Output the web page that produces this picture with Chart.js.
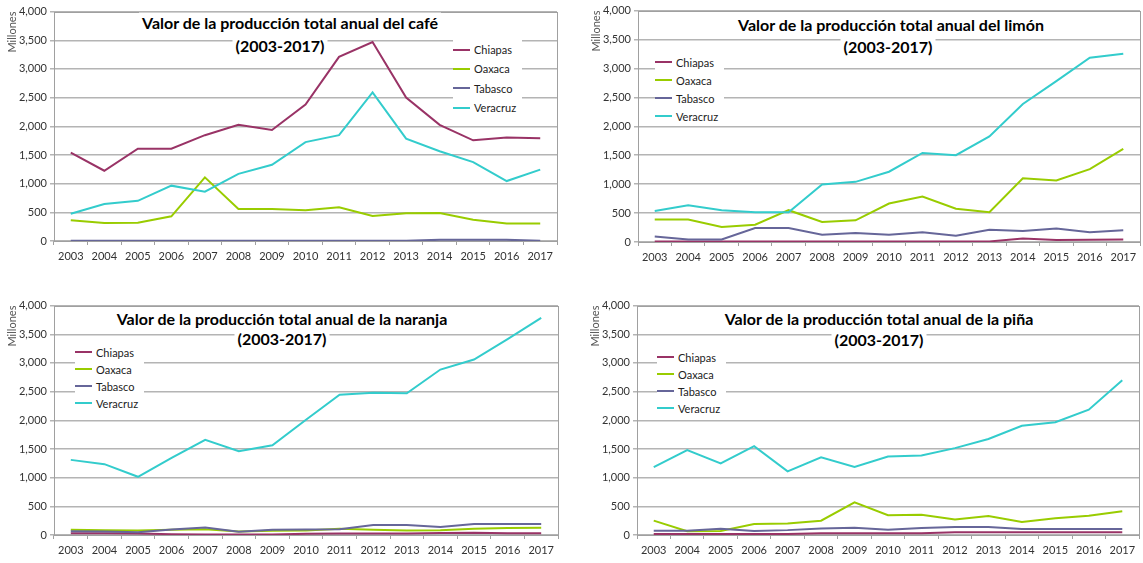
<!DOCTYPE html>
<html>
<head>
<meta charset="utf-8">
<script src="https://cdn.jsdelivr.net/npm/chart.js@4.4.1/dist/chart.umd.min.js"></script>
<style>
  body { margin: 0; background: #fff; width: 1143px; height: 563px; overflow: hidden; position: relative; font-family: Lato, "Open Sans", sans-serif; }
  .box { position: absolute; }
  .ttl { position: absolute; transform: translate(-50%, -50%); background: #fff; padding: 0 3px; font: bold 16px Lato, sans-serif; color: #000; white-space: nowrap; }
  .leg { position: absolute; background: #fff; padding: 0 6px 0 0; font: 11px Lato, sans-serif; color: #222; }
  .leg div { display: flex; align-items: center; }
  .leg span.ln { display: inline-block; width: 17px; height: 2px; margin-right: 4px; }
</style>
</head>
<body>
<script>
var years = ['2003','2004','2005','2006','2007','2008','2009','2010','2011','2012','2013','2014','2015','2016','2017'];
var states = ['Chiapas', 'Oaxaca', 'Tabasco', 'Veracruz'];
var stateColors = ['#993366', '#99CC00', '#666699', '#33CCCC'];
var yTickStep = 500;
var yMax = 4000;

// cafe
var cafeChiapas  = [1540, 1225, 1610, 1610, 1845, 2025, 1935, 2380, 3210, 3470, 2500, 2025, 1755, 1805, 1790];
var cafeOaxaca   = [360, 315, 320, 430, 1110, 560, 560, 535, 590, 435, 485, 490, 370, 305, 305];
var cafeTabasco  = [4, 4, 4, 4, 4, 4, 4, 4, 4, 4, 4, 20, 20, 20, 4];
var cafeVeracruz = [475, 645, 700, 965, 860, 1170, 1330, 1725, 1845, 2590, 1785, 1565, 1375, 1045, 1245];

// limon
var limonChiapas  = [10, 10, 10, 10, 10, 10, 10, 10, 10, 10, 10, 60, 35, 40, 45];
var limonOaxaca   = [390, 390, 260, 300, 550, 345, 375, 665, 785, 575, 515, 1100, 1065, 1260, 1610];
var limonTabasco  = [95, 45, 45, 240, 240, 125, 155, 125, 170, 110, 210, 190, 235, 170, 205];
var limonVeracruz = [535, 635, 550, 515, 515, 995, 1040, 1215, 1540, 1500, 1825, 2385, 2780, 3185, 3255];

// naranja
var naranjaChiapas  = [30, 30, 25, 15, 10, 10, 10, 20, 25, 25, 25, 35, 40, 30, 30];
var naranjaOaxaca   = [90, 85, 80, 90, 100, 60, 75, 80, 110, 90, 80, 85, 110, 120, 125];
var naranjaTabasco  = [65, 60, 50, 95, 130, 55, 90, 95, 100, 175, 175, 140, 190, 190, 190];
var naranjaVeracruz = [1310, 1235, 1015, 1345, 1660, 1460, 1565, 2010, 2445, 2480, 2470, 2885, 3060, 3415, 3785];

// pina
var pinaChiapas  = [18, 18, 18, 18, 18, 29, 29, 29, 29, 47, 47, 47, 47, 47, 47];
var pinaOaxaca   = [250, 65, 70, 190, 200, 250, 570, 345, 355, 270, 330, 225, 290, 335, 415];
var pinaTabasco  = [75, 75, 110, 70, 85, 115, 125, 90, 120, 140, 140, 105, 105, 105, 105];
var pinaVeracruz = [1185, 1480, 1250, 1550, 1110, 1355, 1185, 1370, 1385, 1515, 1675, 1905, 1965, 2185, 2700];

var titles = [
    'Valor de la producción total anual del café',
    'Valor de la producción total anual del limón',
    'Valor de la producción total anual de la naranja',
    'Valor de la producción total anual de la piña'
];
var subTitle = '(2003-2017)';
var yAxisTitle = 'Millones';

var Y_W = 54, X_H = 30, PAD_T = 8, PAD_R = 3;

// page layout of each panel: plot area, title centre, legend spot
var panels = [
    { series: [cafeChiapas, cafeOaxaca, cafeTabasco, cafeVeracruz], plot: { l: 54, t: 10, r: 557, b: 241 },
      tx: 290, ty1: 22, tx2: 280, ty2: 45, lx: 453, ly: 40, row: 19.3 },
    { series: [limonChiapas, limonOaxaca, limonTabasco, limonVeracruz], plot: { l: 638, t: 9, r: 1140, b: 242 },
      tx: 891, ty1: 24, tx2: 888, ty2: 46, lx: 655, ly: 53, row: 18 },
    { series: [naranjaChiapas, naranjaOaxaca, naranjaTabasco, naranjaVeracruz], plot: { l: 54, t: 304, r: 558, b: 535 },
      tx: 282, ty1: 318, tx2: 282, ty2: 338, lx: 75, ly: 343.5, row: 17 },
    { series: [pinaChiapas, pinaOaxaca, pinaTabasco, pinaVeracruz], plot: { l: 637, t: 304, r: 1139, b: 535 },
      tx: 879, ty1: 318, tx2: 879, ty2: 339, lx: 657, ly: 348.5, row: 17 }
];

function fmt(v) {
    return String(v).replace(/\B(?=(\d{3})+(?!\d))/g, ',');
}

var plotBorder = {
    id: 'plotBorder',
    beforeDatasetsDraw: function (chart) {
        var a = chart.chartArea;
        var c = chart.ctx;
        c.save();
        c.strokeStyle = '#A0A0A0';
        c.lineWidth = 1;
        c.strokeRect(Math.round(a.left) + 0.5, Math.round(a.top) + 0.5, Math.round(a.right - a.left), Math.round(a.bottom - a.top));
        c.restore();
    }
};

function makeChart(p, idx) {
    var left = p.plot.l - Y_W;
    var top = p.plot.t - PAD_T;
    var box = document.createElement('div');
    box.className = 'box';
    box.style.left = left + 'px';
    box.style.top = top + 'px';
    box.style.width = (p.plot.r + PAD_R - left) + 'px';
    box.style.height = (p.plot.b + X_H - top) + 'px';
    var cv = document.createElement('canvas');
    box.appendChild(cv);
    document.body.appendChild(box);

    var ds = [];
    for (var i = 0; i < states.length; i++) {
        ds.push({
            label: states[i],
            data: p.series[i],
            borderColor: stateColors[i],
            backgroundColor: stateColors[i],
            borderWidth: 2,
            pointRadius: 0,
            tension: 0,
            order: states.length - i
        });
    }

    new Chart(cv.getContext('2d'), {
        type: 'line',
        data: { labels: years, datasets: ds },
        plugins: [plotBorder],
        options: {
            responsive: true,
            maintainAspectRatio: false,
            animation: false,
            layout: { padding: { top: PAD_T, right: PAD_R, left: 0, bottom: 0 } },
            plugins: { legend: { display: false }, tooltip: { enabled: false }, title: { display: false } },
            scales: {
                x: {
                    offset: true,
                    grid: { offset: true, drawOnChartArea: false, drawTicks: true, tickLength: 4, color: '#A0A0A0' },
                    border: { display: false },
                    ticks: { font: { family: 'Lato', size: 11 }, color: '#333', padding: 5, maxRotation: 0, autoSkip: false },
                    afterFit: function (s) { s.height = X_H; }
                },
                y: {
                    min: 0,
                    max: yMax,
                    grid: { color: '#B4B4B4', lineWidth: 1.5, drawTicks: true, tickLength: 4 },
                    border: { display: false },
                    ticks: { stepSize: yTickStep, font: { family: 'Lato', size: 11 }, color: '#333', padding: 3,
                        callback: function (v) { return fmt(v); } },
                    title: { display: true, text: yAxisTitle, align: 'end', font: { family: 'Lato', size: 11 }, color: '#555', padding: { top: 6, bottom: 2 } },
                    afterFit: function (s) { s.width = Y_W; }
                }
            }
        }
    });

    var t1 = document.createElement('div');
    t1.className = 'ttl';
    t1.textContent = titles[idx];
    t1.style.left = p.tx + 'px';
    t1.style.top = p.ty1 + 'px';
    document.body.appendChild(t1);
    var t2 = document.createElement('div');
    t2.className = 'ttl';
    t2.textContent = subTitle;
    t2.style.left = p.tx2 + 'px';
    t2.style.top = p.ty2 + 'px';
    document.body.appendChild(t2);

    var lg = document.createElement('div');
    lg.className = 'leg';
    lg.style.left = p.lx + 'px';
    lg.style.top = p.ly + 'px';
    for (var j = 0; j < states.length; j++) {
        var r = document.createElement('div');
        r.style.height = p.row + 'px';
        var ln = document.createElement('span');
        ln.className = 'ln';
        ln.style.background = stateColors[j];
        var tx = document.createElement('span');
        tx.textContent = states[j];
        r.appendChild(ln);
        r.appendChild(tx);
        lg.appendChild(r);
    }
    document.body.appendChild(lg);
}

for (var k = 0; k < panels.length; k++) {
    makeChart(panels[k], k);
}
</script>
</body>
</html>
